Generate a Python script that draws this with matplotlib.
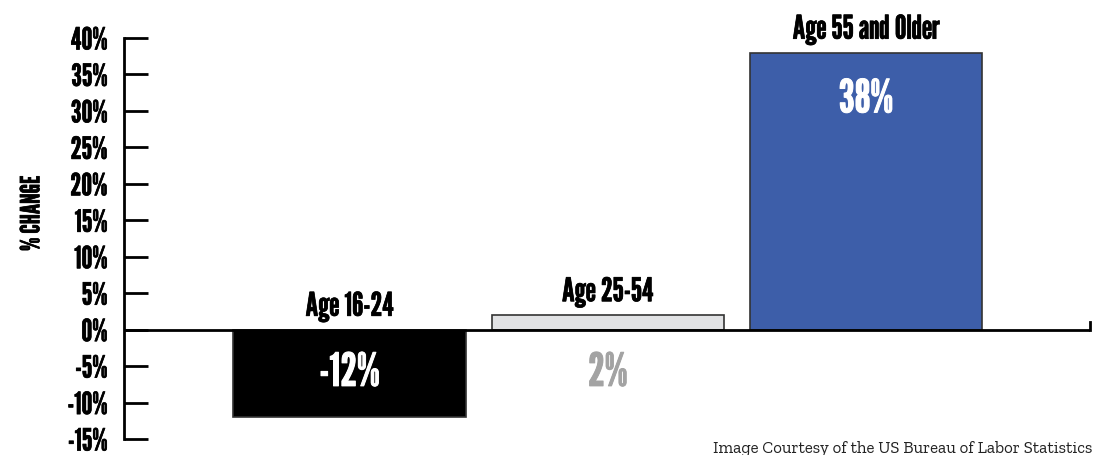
import matplotlib.pyplot as plt
import matplotlib.patheffects as pe
from matplotlib.lines import Line2D

groups = ['Age 16-24', 'Age 25-54', 'Age 55 and Older']
change = [-12, 2, 38]
value_labels = ['-12%', '2%', '38%']
bar_colors = ['#000000', '#e1e2e4', '#3d5ea9']
text_colors = ['white', '#a3a3a3', 'white']
yticks = [-15, -10, -5, 0, 5, 10, 15, 20, 25, 30, 35, 40]

gothic = ['League Gothic', 'DejaVu Sans']
slab = ['Zilla Slab', 'DejaVu Serif']


def heavy(c, w=0.5):
    # League Gothic is a bit light, thicken it with a stroke
    return [pe.withStroke(linewidth=w, foreground=c)]


fig = plt.figure(figsize=(10.98, 4.56), dpi=100)
ax = fig.add_axes([0.1129, 0.035, 0.88, 0.8795])

x = list(range(len(groups)))
ax.bar(x, change, width=0.9, color=bar_colors, edgecolor='#333333', linewidth=1.2, zorder=2)

ax.set_xlim(-0.874, 2.868)
ax.set_ylim(-15, 40)

for sp in ['top', 'right', 'bottom']:
    ax.spines[sp].set_visible(False)
ax.spines['left'].set_linewidth(2)
ax.set_xticks([])
ax.set_yticks(yticks)
ax.set_yticklabels(['%d%%' % t for t in yticks], fontfamily=gothic, fontsize=22)
for lab in ax.get_yticklabels():
    lab.set_path_effects(heavy('black'))
ax.tick_params(axis='y', direction='in', length=17, width=2, pad=12)

# zero line with small up-tick at the right end
ax.axhline(0, color='black', linewidth=2, zorder=3)
ax.add_line(Line2D([2.868, 2.868], [0, 1.1], color='black', linewidth=2, clip_on=False))

for i, v in enumerate(change):
    top = max(v, 0)
    ax.text(i, top + 1.9, groups[i], ha='center', va='baseline', fontsize=23.5,
            fontfamily=gothic, color='black', path_effects=heavy('black'))
    if v > 10:
        ty = v - 6.5
    else:
        ty = -6
    ax.text(i, ty, value_labels[i], ha='center', va='center', fontsize=33,
            fontfamily=gothic, color=text_colors[i], zorder=4,
            path_effects=heavy(text_colors[i], 0.7))

fig.text(0.029, 0.53, '% CHANGE', rotation=90, ha='center', va='center',
         fontsize=19, fontfamily=gothic, path_effects=heavy('black'))

fig.text(0.995, 0.006, 'Image Courtesy of the US Bureau of Labor Statistics',
         ha='right', va='baseline', fontsize=12.2, fontfamily=slab,
         color='#222222')

fig.savefig('out.png', dpi=100)
